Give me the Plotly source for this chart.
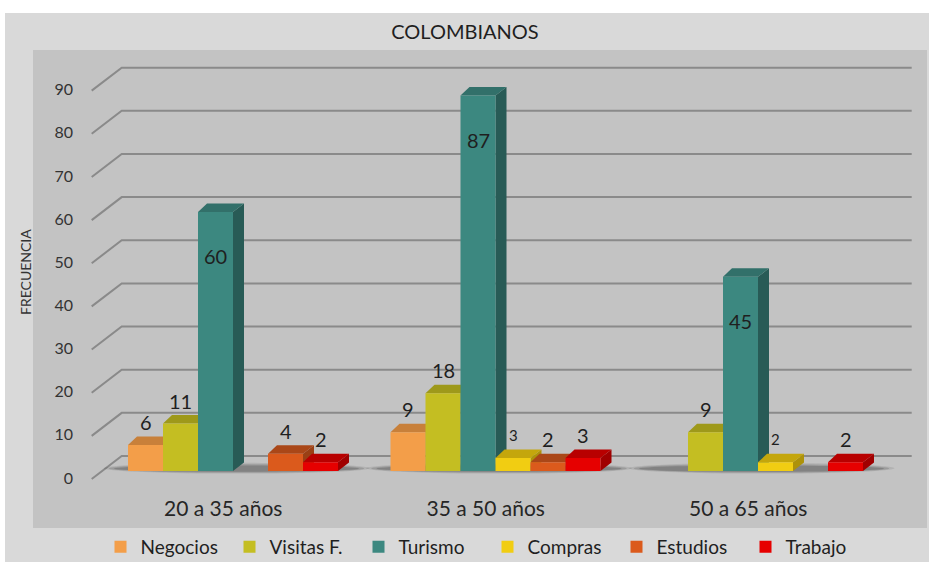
import plotly.graph_objects as go

# ---------------- data ----------------
categories = ["20 a 35 años", "35 a 50 años", "50 a 65 años"]
series_names = ["Negocios", "Visitas F.", "Turismo", "Compras", "Estudios", "Trabajo"]
negocios = [6, 9, None]
visitas = [11, 18, 9]
turismo = [60, 87, 45]
compras = [None, 3, 2]
estudios = [4, 2, None]
trabajo = [2, 3, 2]
y_ticks = [0, 10, 20, 30, 40, 50, 60, 70, 80, 90]
title_text = "COLOMBIANOS"
y_title = "FRECUENCIA"

series_values = [negocios, visitas, turismo, compras, estudios, trabajo]

# ---------------- styles ----------------
front_colors = ["#F39E49", "#C4BE22", "#3C8880", "#F1CD12", "#DB5A1C", "#E60000"]
top_colors = ["#C8803A", "#9E991A", "#32706A", "#C4A60C", "#AA4718", "#B80000"]
side_colors = ["#B87435", "#8C8716", "#285B56", "#AD920A", "#9A4015", "#A00000"]
label_sizes = [20, 20, 20, 15, 20, 20]
inside_label = [False, False, True, False, False, False]

FONT = "Lato, 'Open Sans', sans-serif"
TEXT = "#1f1f1f"

# ---------------- geometry (layout) ----------------
W, H = 929, 562
ML, MR, MT, MB = 88, 13, 50, 77
PW, PH = W - ML - MR, H - MT - MB
PX_X = 35.0           # px per x unit (one bar width)
X0_PX = 233.0         # pixel of first group centre
PX_Y = 4.315          # px per value unit
Y0_PX = 471.0         # pixel of value 0 (bar floor)
GROUP_STEP = 7.5

x_range = [(ML - X0_PX) / PX_X, (ML + PW - X0_PX) / PX_X]
y_range = [(Y0_PX - (MT + PH)) / PX_Y, (Y0_PX - MT) / PX_Y]

DXL = 9 / PX_X
DXR = 11 / PX_X
DY = 8.5 / PX_Y


def paper_x(px):
    return (px - ML) / PW


def paper_y(py):
    return (MT + PH - py) / PH


fig = go.Figure()
shapes = []
annotations = []

# backgrounds
shapes.append(dict(type="rect", xref="paper", yref="paper", layer="below",
                   x0=paper_x(5), x1=paper_x(929), y0=paper_y(562), y1=paper_y(13),
                   fillcolor="#D9D9D9", line=dict(width=0)))
shapes.append(dict(type="rect", xref="paper", yref="paper", layer="below",
                   x0=paper_x(33), x1=paper_x(927), y0=paper_y(528), y1=paper_y(50),
                   fillcolor="#C3C3C3", line=dict(width=0)))

# 3D gridlines (front-left diagonal + back wall line)
xf = (91.7 - X0_PX) / PX_X
xb = (121.7 - X0_PX) / PX_X
xe = (911.7 - X0_PX) / PX_X
for v in y_ticks:
    yf = v - 8 / PX_Y
    yb = v + 15 / PX_Y
    shapes.append(dict(type="path", xref="x", yref="y", layer="below",
                       path=f"M{xf},{yf} L{xb},{yb} L{xe},{yb}",
                       line=dict(color="#8A8A8A", width=2)))

# floor shadows
for g in range(len(categories)):
    c = g * GROUP_STEP
    for k, a in enumerate([0.10, 0.15, 0.20]):
        shapes.append(dict(type="circle", xref="x", yref="y", layer="below",
                           x0=c - 3.7 + k * 0.15, x1=c + 3.9 - k * 0.15,
                           y0=-0.6 + k * 0.2, y1=1.9 - k * 0.3,
                           fillcolor=f"rgba(30,30,30,{a})", line=dict(width=0)))

# bars (front faces) + top / side faces
for s, (name, vals) in enumerate(zip(series_names, series_values)):
    xs = [g * GROUP_STEP + (s - 2.5) for g in range(len(categories))]
    fig.add_trace(go.Bar(
        x=xs, y=vals, width=1.0, name=name,
        marker=dict(color=front_colors[s], line=dict(width=0)),
        hoverinfo="skip",
    ))

for g in range(len(categories)):
    for s, vals in enumerate(series_values):
        v = vals[g]
        if v is None:
            continue
        xc = g * GROUP_STEP + (s - 2.5)
        x0, x1 = xc - 0.5, xc + 0.5
        # side face
        shapes.append(dict(type="path", xref="x", yref="y", layer="below",
                           path=f"M{x1},0 L{x1},{v} L{x1 + DXR},{v + DY} L{x1 + DXR},{DY} Z",
                           fillcolor=side_colors[s], line=dict(width=0)))
        # top face
        shapes.append(dict(type="path", xref="x", yref="y", layer="below",
                           path=f"M{x0},{v} L{x0 + DXL},{v + DY} L{x1 + DXR},{v + DY} L{x1},{v} Z",
                           fillcolor=top_colors[s], line=dict(width=0)))
        annotations.append(dict(
            x=xc, y=v, xref="x", yref="y", text=str(v), showarrow=False,
            yshift=-44 if inside_label[s] else 23,
            font=dict(family=FONT, size=label_sizes[s], color=TEXT)))

# y axis title
annotations.append(dict(x=paper_x(25), y=paper_y(272), xref="paper", yref="paper",
                        xanchor="center", yanchor="middle",
                        text=y_title, textangle=-90, showarrow=False,
                        font=dict(family=FONT, size=14, color="#333333")))

fig.update_layout(
    width=W, height=H,
    margin=dict(l=ML, r=MR, t=MT, b=MB, autoexpand=False),
    paper_bgcolor="white",
    plot_bgcolor="#C3C3C3",
    barmode="overlay",
    title=dict(text=title_text, x=465 / W, xref="container", xanchor="center",
               y=1 - 32 / H, yref="container", yanchor="middle",
               font=dict(family=FONT, size=20, color=TEXT)),
    xaxis=dict(range=x_range, showgrid=False, zeroline=False, showline=False,
               tickmode="array",
               tickvals=[g * GROUP_STEP - 0.28 for g in range(len(categories))],
               ticktext=categories, ticks="", ticklabelstandoff=9,
               tickfont=dict(family=FONT, size=21, color="#262626")),
    yaxis=dict(range=y_range, showgrid=False, zeroline=False, showline=False,
               tickmode="array", tickvals=y_ticks, ticks="",
               ticklabelstandoff=14, ticklabelshift=7,
               tickfont=dict(family=FONT, size=16, color="#333333")),
    legend=dict(orientation="h", x=paper_x(487.5), xanchor="center",
                y=paper_y(547), yanchor="middle", bgcolor="rgba(0,0,0,0)",
                font=dict(family=FONT, size=19, color=TEXT),
                entrywidth=84, entrywidthmode="pixels",
                itemwidth=30, traceorder="normal"),
    shapes=shapes,
    annotations=annotations,
    showlegend=True,
)

fig.write_html("out.html", config={"displayModeBar": False},
               post_script="document.body.style.margin='0px';")
